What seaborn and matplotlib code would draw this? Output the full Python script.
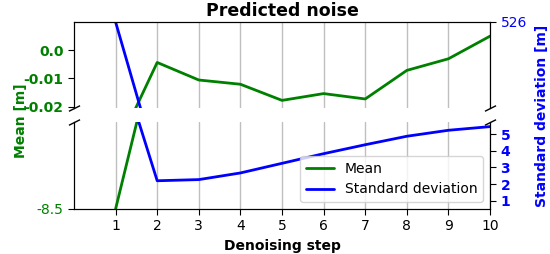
import numpy as np
import seaborn as sns
import matplotlib.pyplot as plt
from matplotlib.lines import Line2D

steps = [1, 2, 3, 4, 5, 6, 7, 8, 9, 10]
mean_noise = [-8.5, -0.0044, -0.0106, -0.0121, -0.0178, -0.0154, -0.0173, -0.0072, -0.0031, 0.0049]
std_noise = [526, 2.2, 2.27, 2.67, 3.25, 3.83, 4.37, 4.88, 5.24, 5.46]

sns.set_style('white')
plt.rcParams['font.family'] = ['DejaVu Sans']
plt.rcParams['font.size'] = 10
plt.rcParams['text.color'] = 'black'
plt.rcParams['axes.labelcolor'] = 'black'
plt.rcParams['xtick.color'] = 'black'
plt.rcParams['ytick.color'] = 'black'


# piecewise linear scale: linear on the visible part, squashed past the break
def squash(thr, k, below=True):
    if below:
        fwd = lambda y: np.where(y >= thr, y, thr + (y - thr) * k)
        inv = lambda z: np.where(z >= thr, z, thr + (z - thr) / k)
    else:
        fwd = lambda y: np.where(y <= thr, y, thr + (y - thr) * k)
        inv = lambda z: np.where(z <= thr, z, thr + (z - thr) / k)
    return fwd, inv


fig = plt.figure(figsize=(5.5, 2.54), dpi=100)
ax_top = fig.add_axes([0.1345, 0.5736, 0.7565, 0.3398])
ax_bot = fig.add_axes([0.1345, 0.1772, 0.7565, 0.3413], sharex=ax_top)
ax_top_r = ax_top.twinx()
ax_bot_r = ax_bot.twinx()

for ax in (ax_top, ax_bot):
    sns.lineplot(x=steps, y=mean_noise, ax=ax, color='green', lw=2)
for ax in (ax_top_r, ax_bot_r):
    sns.lineplot(x=steps, y=std_noise, ax=ax, color='blue', lw=2)

ax_top.set_yscale('function', functions=squash(-0.0206, 0.00177))
ax_top.set_ylim(-0.0206, 0.0099)
ax_top.set_yticks([0.0, -0.01, -0.02], ['0.0', '-0.01', '-0.02'])
ax_bot.set_ylim(-8.5, -4.17)
ax_bot.set_yticks([-8.5], ['-8.5'])
ax_top_r.set_ylim(211.7, 526)
ax_top_r.set_yticks([526], ['526'])
ax_bot_r.set_yscale('function', functions=squash(5.72, 0.00861, below=False))
ax_bot_r.set_ylim(0.5, 5.72)
ax_bot_r.set_yticks([1, 2, 3, 4, 5], ['1', '2', '3', '4', '5'])

ax_bot.set_xlim(0, 10)
ax_bot.set_xticks(steps)
ax_bot.set_xlabel('Denoising step', fontweight='bold')
ax_top.tick_params(axis='x', bottom=False, labelbottom=False)
ax_top_r.tick_params(axis='x', bottom=False, labelbottom=False)

for ax in (ax_top, ax_bot, ax_top_r, ax_bot_r):
    ax.set_ylabel('')
    for s in ax.spines.values():
        s.set_color('black')
for ax in (ax_top, ax_top_r):
    ax.spines['bottom'].set_visible(False)
for ax in (ax_bot, ax_bot_r):
    ax.spines['top'].set_visible(False)

for ax in (ax_top, ax_bot):
    ax.grid(axis='x', color='0.75', lw=1)
    ax.grid(axis='y', visible=False)
for ax in (ax_top_r, ax_bot_r):
    ax.grid(False)

ax_top.tick_params(axis='y', left=True, labelcolor='green', length=4)
ax_bot.tick_params(axis='y', left=True, labelcolor='green', length=4)
ax_top_r.tick_params(axis='y', right=True, labelcolor='blue', length=4)
ax_bot_r.tick_params(axis='y', right=True, labelcolor='blue', length=4)
ax_bot.tick_params(axis='x', bottom=True, length=4)
for t in ax_top.get_yticklabels() + ax_bot_r.get_yticklabels():
    t.set_fontweight('bold')

# break marks
d = 0.5
kw = dict(marker=[(-1, -d), (1, d)], markersize=8, linestyle='none',
          color='k', mec='k', mew=1, clip_on=False)
ax_top.plot([0, 1], [0, 0], transform=ax_top.transAxes, **kw)
ax_bot.plot([0, 1], [1, 1], transform=ax_bot.transAxes, **kw)

ax_top.set_title('Predicted noise', fontweight='bold', fontsize=12.5, pad=4)
fig.text(0.038, 0.525, 'Mean [m]', color='green', fontweight='bold',
         rotation=90, ha='center', va='center')
fig.text(0.986, 0.545, 'Standard deviation [m]', color='blue', fontweight='bold',
         rotation=90, ha='center', va='center')

handles = [Line2D([], [], color='green', lw=2), Line2D([], [], color='blue', lw=2)]
ax_bot_r.legend(handles, ['Mean', 'Standard deviation'], loc='lower right')

plt.savefig('out.png', dpi=100)
